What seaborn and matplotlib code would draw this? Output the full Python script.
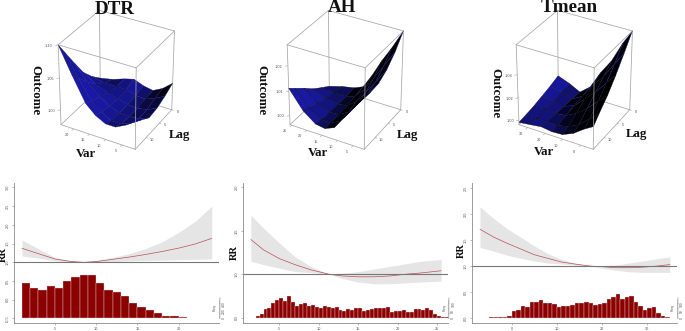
import numpy as np
import matplotlib
matplotlib.use("Agg")
import matplotlib.pyplot as plt
import seaborn as sns
from mpl_toolkits.mplot3d import proj3d

W, H = 685, 331

# 3d surfaces: rows are lags, columns are var values
lag_grid = [0, 3, 6, 9, 12, 14]
lag_ticks = [0, 5, 10]

dtr_var = [1, 4, 7, 10, 13, 16, 20, 24]
dtr_surface = [
    [1.019, 1.006, 0.998, 1.001, 1.007, 1.003, 0.996, 0.992],
    [1.011, 1.003, 0.997, 0.998, 1.003, 1.003, 1.003, 1.007],
    [1.005, 0.998, 0.995, 0.996, 1.001, 1.006, 1.013, 1.026],
    [1.003, 0.997, 0.995, 0.996, 1.002, 1.012, 1.029, 1.053],
    [1.013, 1.003, 0.997, 0.997, 1.006, 1.018, 1.048, 1.081],
    [1.021, 1.009, 1.001, 1.001, 1.009, 1.023, 1.060, 1.100],
]
ah_var = [1.5, 5, 8, 11, 14, 17, 21, 25.5]
ah_surface = [
    [1.0280, 1.0201, 1.0140, 1.0070, 1.0010, 0.9994, 0.9984, 0.9968],
    [1.0229, 1.0159, 1.0102, 1.0045, 1.0003, 0.9991, 0.9991, 0.9994],
    [1.0191, 1.0127, 1.0076, 1.0026, 0.9997, 0.9991, 1.0000, 1.0022],
    [1.0169, 1.0111, 1.0061, 1.0016, 0.9994, 0.9991, 1.0010, 1.0057],
    [1.0166, 1.0111, 1.0061, 1.0013, 0.9994, 0.9994, 1.0026, 1.0089],
    [1.0175, 1.0115, 1.0061, 1.0010, 0.9994, 1.0000, 1.0038, 1.0111],
]
tm_var = [-7, -2, 4, 10, 16, 22, 28, 35]
tm_surface = [
    [1.0650, 1.0526, 1.0346, 1.0215, 1.0057, 0.9981, 1.0029, 1.0070],
    [1.0526, 1.0415, 1.0277, 1.0167, 1.0043, 0.9988, 1.0022, 1.0043],
    [1.0409, 1.0319, 1.0208, 1.0119, 1.0029, 0.9995, 1.0015, 1.0022],
    [1.0305, 1.0229, 1.0139, 1.0064, 1.0015, 1.0001, 1.0008, 1.0001],
    [1.0222, 1.0153, 1.0070, 1.0022, 1.0001, 1.0001, 1.0001, 0.9988],
    [1.0160, 1.0112, 1.0043, 1.0001, 0.9995, 1.0008, 0.9995, 0.9981],
]

# exposure-response curves
dtr_x = [1, 3, 5, 7, 8.5, 10, 12, 14, 16, 18, 20, 22, 24]
dtr_rr = [1.375, 1.23, 1.09, 1.02, 1.0, 1.02, 1.08, 1.14, 1.21, 1.29, 1.38, 1.49, 1.64]
dtr_hi = [1.6, 1.36, 1.13, 1.04, 1.0, 1.05, 1.13, 1.23, 1.37, 1.55, 1.8, 2.1, 2.5]
dtr_lo = [1.17, 1.11, 1.04, 1.0, 1.0, 1.0, 1.02, 1.04, 1.05, 1.06, 1.07, 1.08, 1.09]

ah_x = [1.4, 3, 5, 7, 9, 11.3, 13, 15, 17, 19, 21, 23, 25.5]
ah_rr = [1.40, 1.28, 1.18, 1.11, 1.05, 1.0, 0.98, 0.97, 0.97, 0.98, 1.0, 1.015, 1.04]
ah_hi = [1.68, 1.53, 1.36, 1.20, 1.09, 1.0, 1.01, 1.03, 1.06, 1.09, 1.12, 1.15, 1.17]
ah_lo = [1.15, 1.11, 1.07, 1.03, 1.02, 1.0, 0.95, 0.91, 0.89, 0.89, 0.90, 0.91, 0.92]

tm_x = [-7, -4, -1, 2, 5, 8, 11, 14, 17.5, 20, 23, 26, 29, 32, 35]
tm_rr = [1.71, 1.56, 1.44, 1.33, 1.22, 1.15, 1.08, 1.04, 1.0, 0.99, 0.97, 0.97, 0.98, 1.0, 1.03]
tm_hi = [2.14, 1.92, 1.72, 1.56, 1.39, 1.24, 1.13, 1.06, 1.0, 1.01, 1.02, 1.06, 1.10, 1.14, 1.18]
tm_lo = [1.36, 1.29, 1.21, 1.15, 1.10, 1.06, 1.04, 1.02, 1.0, 0.96, 0.92, 0.89, 0.88, 0.88, 0.88]

# histograms, left bin edge start + counts
dtr_bin_start, dtr_bin_width = 1, 1
dtr_counts = [1030, 890, 830, 940, 880, 1090, 1220, 1290, 1270, 1040, 840, 770, 640, 430, 330,
              220, 130, 50, 50, 10]
ah_bin_start, ah_bin_width = 2, 0.5
ah_counts = [10, 27, 65, 70, 110, 132, 145, 125, 160, 118, 88, 100, 110, 90, 92, 77, 75, 90, 80,
             70, 80, 57, 52, 65, 60, 72, 72, 52, 57, 65, 70, 70, 70, 82, 40, 50, 50, 55, 42, 42,
             67, 62, 60, 70, 55, 30, 15, 8, 2]
tm_bin_start, tm_bin_width = -5, 1
tm_counts = [2, 2, 5, 5, 10, 47, 57, 90, 80, 115, 117, 130, 112, 112, 100, 80, 87, 85, 97, 107,
             107, 117, 110, 95, 105, 107, 137, 157, 175, 137, 155, 160, 115, 85, 55, 72, 80, 35,
             12, 2]

sns.set_style("white")
plt.rcParams["font.family"] = ["Liberation Serif", "DejaVu Serif"]
SANS = "Liberation Sans"
GREY = "#8a8a8a"
BOX = "#a6a6a6"

fig = plt.figure(figsize=(W / 100, H / 100), dpi=100)


def ftext(x, y, s, **kw):
    fig.text(x / W, 1 - y / H, s, ha="center", va="center", **kw)


def surface(dx, var, z, zlim, var_ticks, z_ticks):
    side = 190
    left, bottom = 19.4 + dx, 155
    ax = fig.add_axes([left / W, bottom / H, side / W, side / H], projection="3d",
                      computed_zorder=False)
    ax.patch.set_alpha(0)
    ax.set_axis_off()
    ax.set_xticks([])
    ax.set_yticks([])
    ax.set_zticks([])
    ax.set_proj_type("persp")
    ax.view_init(elev=32.5, azim=209.4)
    ax.set_box_aspect((77.4, 83.8, 92), zoom=0.765)

    v0, v1 = var[0], var[-1]
    l0, l1 = lag_grid[0], lag_grid[-1]
    ax.set_xlim(l1, l0)
    ax.set_ylim(v0, v1)
    ax.set_zlim(*zlim)

    z = np.array(z)
    V, L = np.meshgrid(var, lag_grid)
    # shading from the slope of the surface in box units
    dzl, dzv = np.gradient((z - zlim[0]) / (zlim[1] - zlim[0]),
                           np.array(lag_grid) / (l1 - l0) * 77.4 / 92,
                           (np.array(var) - v0) / (v1 - v0) * 83.8 / 92)
    n = np.stack([dzl, -dzv, np.ones_like(z)], axis=-1)
    n /= np.linalg.norm(n, axis=-1, keepdims=True)
    b = np.clip(-n[..., 1] * 0.5 + n[..., 0] * 0.15 + n[..., 2] * 0.62, 0, 1)
    colors = np.zeros(z.shape + (4,))
    colors[..., 0] = b * 0.12
    colors[..., 1] = b * 0.12
    colors[..., 2] = b * 0.8
    colors[..., 3] = 1

    def edge(a, c, zo=1):
        ax.plot([a[0], c[0]], [a[1], c[1]], [a[2], c[2]], color=BOX, lw=0.55, zorder=zo)

    def tick_label(x, y, zv, s):
        px, py, _ = proj3d.proj_transform(x, y, zv, ax.get_proj())
        ax.text2D(px, py, s, transform=ax.transData, fontsize=2.8, color="#555555", family=SANS,
                  ha="center", va="center", zorder=4)

    zb, zt = zlim
    # back edges
    edge((l0, v1, zb), (l0, v1, zt))
    edge((l0, v1, zt), (l1, v1, zt))
    edge((l0, v1, zt), (l0, v0, zt))
    edge((l0, v1, zb), (l1, v1, zb))
    edge((l0, v1, zb), (l0, v0, zb))
    edge((l0, v0, zb), (l0, v0, zt))
    edge((l1, v1, zb), (l1, v1, zt))

    surf = ax.plot_surface(L, V, z, facecolors=colors, rstride=1, cstride=1, shade=False,
                           linewidth=0.25, antialiased=True, zorder=2)
    surf.set_edgecolor("face")

    # front edges
    edge((l1, v0, zb), (l1, v0, zt), 3)
    edge((l1, v1, zt), (l1, v0, zt), 3)
    edge((l0, v0, zt), (l1, v0, zt), 3)
    edge((l1, v0, zb), (l1, v1, zb), 3)
    edge((l1, v0, zb), (l0, v0, zb), 3)

    for t in var_ticks:
        ax.plot([l1, l1 + 0.6], [t, t], [zb, zb], color=BOX, lw=0.4, zorder=3)
        tick_label(l1 + 2.2, t, zb, str(t))
    for t in lag_ticks:
        ax.plot([t, t], [v0, v0 - (v1 - v0) * 0.025], [zb, zb], color=BOX, lw=0.4, zorder=3)
        tick_label(t, v0 - (v1 - v0) * 0.08, zb, str(t))
    for t in z_ticks:
        ax.plot([l1, l1 + 0.4], [v1, v1 + (v1 - v0) * 0.02], [t, t], color=BOX, lw=0.4, zorder=3)
        tick_label(l1 + 1.0, v1 + (v1 - v0) * 0.08, t, f"{t:.2f}")


def response(left, right, xlim, ylim, xticks, yticks, ylabels, x, rr, lo, hi,
             start, width, counts, cpp, mini_top, mini_labels, mini_minor):
    top, bottom, base = 183, 323.3, 317.7
    ax = fig.add_axes([left / W, 1 - bottom / H, (right - left) / W, (bottom - top) / H])
    ax.patch.set_alpha(0)
    ax.fill_between(x, lo, hi, color="#e5e5e5", lw=0)
    sns.lineplot(x=x, y=rr, ax=ax, color="#bb5050", lw=0.5, errorbar=None)
    ax.axhline(1, color="#777777", lw=0.8)
    ax.set_xlim(*xlim)
    ax.set_ylim(*ylim)
    ax.set_xticks(xticks)
    ax.set_yticks(yticks)
    ax.set_yticklabels(ylabels, rotation=90, va="center")
    ax.tick_params(left=True, bottom=True, length=1.5, width=0.4, color=GREY, pad=1.5,
                   labelsize=2.8, labelcolor="#555555")
    for lab in ax.get_xticklabels() + ax.get_yticklabels():
        lab.set_family(SANS)
    sns.despine(ax=ax)
    for s in ["left", "bottom"]:
        ax.spines[s].set_color(GREY)
        ax.spines[s].set_linewidth(0.6)

    tw = ax.twinx()
    edges = start + width * np.arange(len(counts) + 1)
    sns.histplot(x=edges[:-1] + width / 2, weights=counts, bins=list(edges), ax=tw, color="#8b0000",
                 alpha=1, edgecolor="#f3dede", linewidth=0.25)
    tw.set_xlim(*xlim)
    tw.set_ylim(-(bottom - base) * cpp, (base - top) * cpp)
    tw.set_ylabel("")
    tw.set_yticks(mini_labels)
    tw.set_yticklabels([str(m) for m in mini_labels], rotation=90, va="center")
    tw.set_yticks(np.arange(0, mini_top + mini_minor, mini_minor), minor=True)
    tw.tick_params(axis="y", which="both", right=True, left=False, length=1.2, width=0.25,
                   color=GREY, pad=1, labelsize=2.4, labelcolor="#555555")
    tw.grid(False)
    for lab in tw.get_yticklabels():
        lab.set_family(SANS)
    for s in ["top", "left", "bottom"]:
        tw.spines[s].set_visible(False)
    tw.spines["right"].set_bounds(0, mini_top)
    tw.spines["right"].set_color(GREY)
    tw.spines["right"].set_linewidth(0.4)
    ftext(right - 4, 308, "Freq", rotation=90, fontsize=2.4, color="#555555", family=SANS)


surface(0, dtr_var, dtr_surface, (0.976, 1.10), [5, 10, 15, 20], [1.00, 1.05, 1.10])
surface(229, ah_var, ah_surface, (0.9962, 1.028), [5, 10, 15, 20, 25], [1.00, 1.01, 1.02])
surface(458, tm_var, tm_surface, (0.996, 1.065), [0, 10, 20, 30], [1.00, 1.02, 1.04])

response(14.3, 219, (0.07, 24.88), (-0.63, 3.12), [5, 10, 15, 20],
         [-0.5, 0, 0.5, 1, 1.5, 2, 2.5, 3], ["-0.5", "0.0", "0.5", "1.0", "1.5", "2.0", "2.5", "3.0"],
         dtr_x, dtr_rr, dtr_lo, dtr_hi, dtr_bin_start, dtr_bin_width, dtr_counts, 30, 560,
         [0, 200, 400], 50)
response(243.3, 448.3, (0.44, 26.4), (0.435, 2.05), [5, 10, 15, 20, 25],
         [0.5, 1, 1.5, 2], ["0.5", "1.0", "1.5", "2.0"],
         ah_x, ah_rr, ah_lo, ah_hi, ah_bin_start, ah_bin_width, ah_counts, 7.5, 140,
         [0, 50, 100], 12.5)
response(472.3, 676.7, (-8.7, 36.5), (-0.1, 2.6), [0, 10, 20, 30],
         [0, 0.5, 1, 1.5, 2, 2.5], ["0.0", "0.5", "1.0", "1.5", "2.0", "2.5"],
         tm_x, tm_rr, tm_lo, tm_hi, tm_bin_start, tm_bin_width, tm_counts, 7.5, 140,
         [0, 50, 100], 12.5)

title_kw = dict(fontsize=13.7, fontweight="bold", color="#111111")
ftext(115, 9, "DTR", **title_kw)
ftext(342, 8, "AH", **title_kw)
ftext(569, 7, "Tmean", **title_kw)

lab_kw = dict(fontsize=9.3, fontweight="bold", color="#111111")
ftext(35, 90, "Outcome", rotation=-90, **lab_kw)
ftext(261, 90, "Outcome", rotation=-90, **lab_kw)
ftext(495, 93, "Outcome", rotation=-90, **lab_kw)
for x, y in [(180, 135), (408, 135), (637, 134)]:
    ftext(x, y, "Lag", **lab_kw)
for x, y in [(86, 154), (318, 153), (544, 152)]:
    ftext(x, y, "Var", **lab_kw)
for x, y in [(3, 254), (234, 252), (461, 251)]:
    ftext(x, y, "RR", rotation=90, fontsize=7.5, fontweight="bold", color="#111111")

fig.savefig("out.png", dpi=100)
